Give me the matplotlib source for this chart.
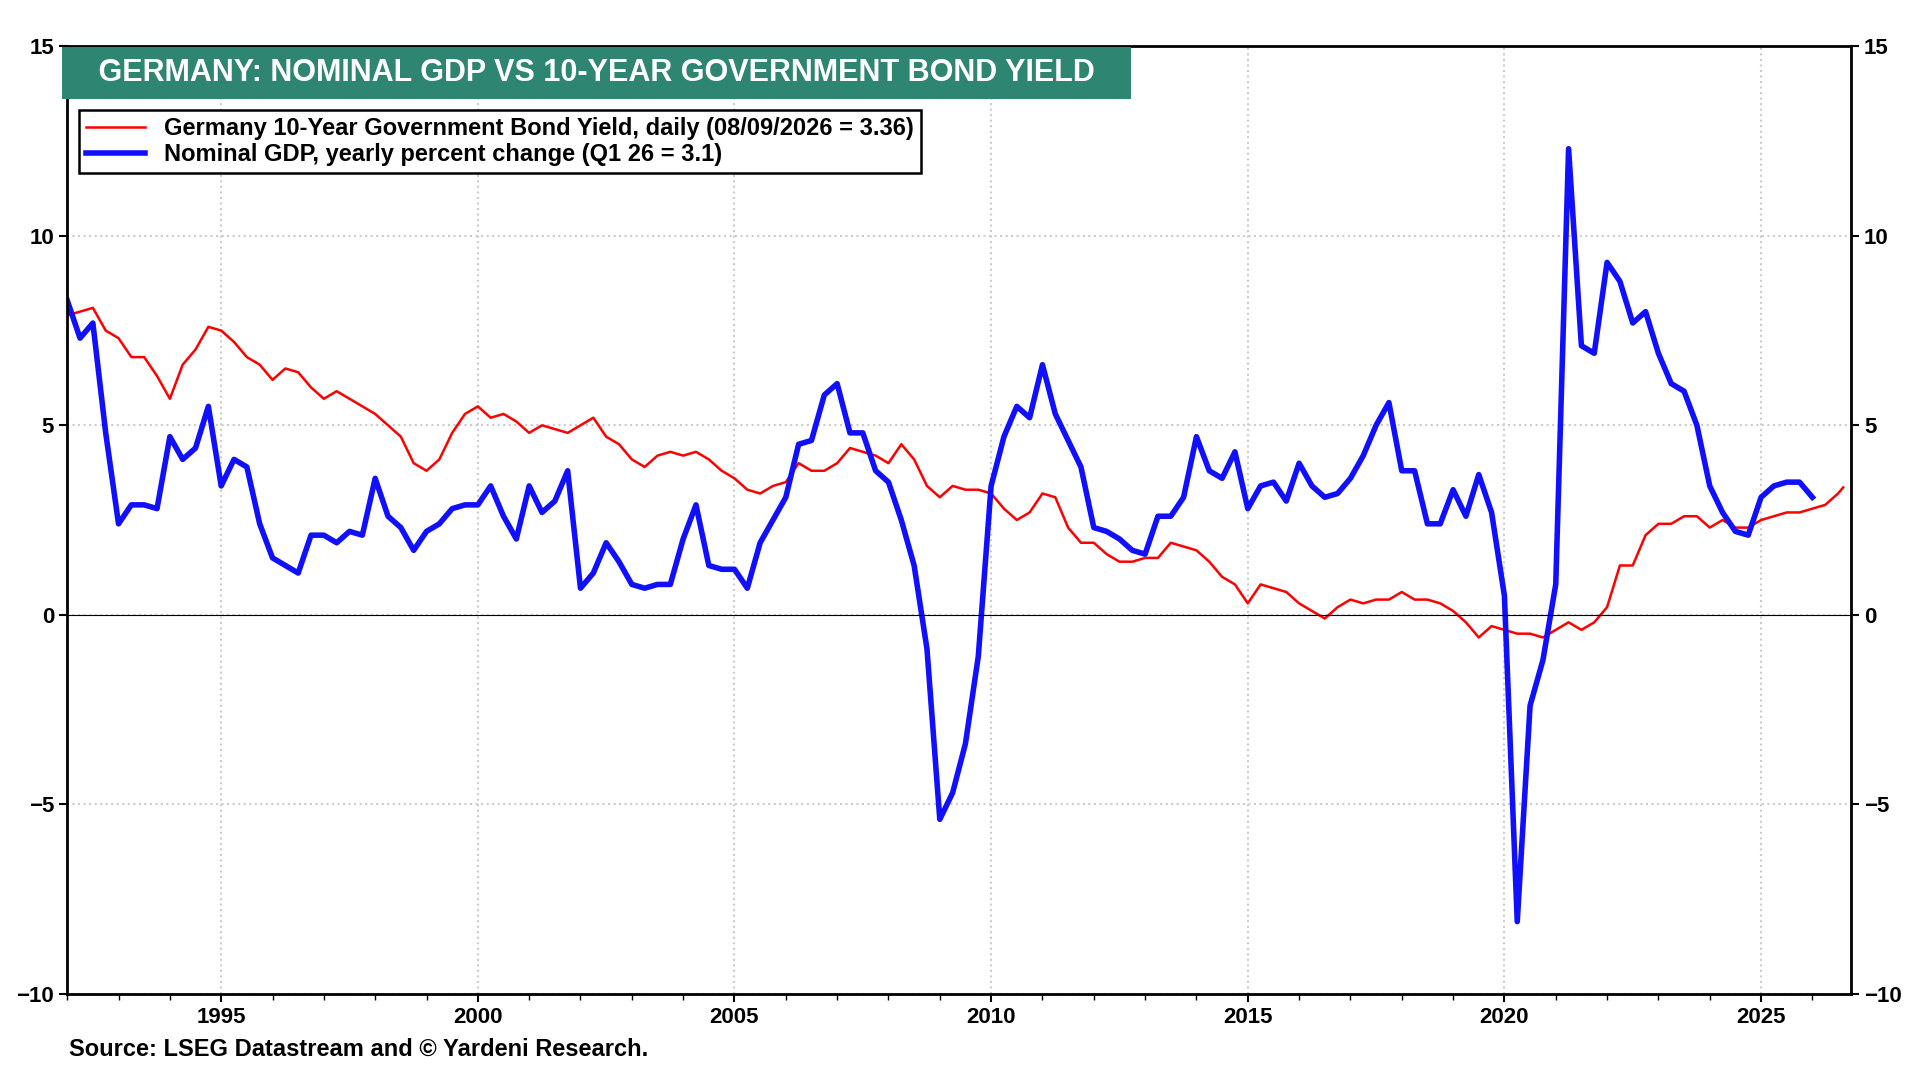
import numpy as np
import matplotlib.pyplot as plt

plt.rcParams['font.family'] = ['Liberation Sans', 'DejaVu Sans']

# Nominal GDP, y/y % change, quarterly 1992Q1..2026Q1
gdp = [8.3, 7.3, 7.7, 4.8, 2.4, 2.9, 2.9, 2.8, 4.7, 4.1, 4.4, 5.5,
       3.4, 4.1, 3.9, 2.4, 1.5, 1.3, 1.1, 2.1, 2.1, 1.9, 2.2, 2.1,
       3.6, 2.6, 2.3, 1.7, 2.2, 2.4, 2.8, 2.9, 2.9, 3.4, 2.6, 2.0,
       3.4, 2.7, 3.0, 3.8, 0.7, 1.1, 1.9, 1.4, 0.8, 0.7, 0.8, 0.8,
       2.0, 2.9, 1.3, 1.2, 1.2, 0.7, 1.9, 2.5, 3.1, 4.5, 4.6, 5.8,
       6.1, 4.8, 4.8, 3.8, 3.5, 2.5, 1.3, -0.9, -5.4, -4.7, -3.4, -1.1,
       3.4, 4.7, 5.5, 5.2, 6.6, 5.3, 4.6, 3.9, 2.3, 2.2, 2.0, 1.7,
       1.6, 2.6, 2.6, 3.1, 4.7, 3.8, 3.6, 4.3, 2.8, 3.4, 3.5, 3.0,
       4.0, 3.4, 3.1, 3.2, 3.6, 4.2, 5.0, 5.6, 3.8, 3.8, 2.4, 2.4,
       3.3, 2.6, 3.7, 2.7, 0.5, -8.1, -2.4, -1.2, 0.8, 12.3, 7.1, 6.9,
       9.3, 8.8, 7.7, 8.0, 6.9, 6.1, 5.9, 5.0, 3.4, 2.7, 2.2, 2.1,
       3.1, 3.4, 3.5, 3.5, 3.1]
gdp_t = 1992.0 + 0.25 * np.arange(len(gdp))

# 10-year bund yield, quarterly readings 1992Q1.. plus latest
yld = [7.9, 8.0, 8.1, 7.5, 7.3, 6.8, 6.8, 6.3, 5.7, 6.6, 7.0, 7.6,
       7.5, 7.2, 6.8, 6.6, 6.2, 6.5, 6.4, 6.0, 5.7, 5.9, 5.7, 5.5,
       5.3, 5.0, 4.7, 4.0, 3.8, 4.1, 4.8, 5.3, 5.5, 5.2, 5.3, 5.1,
       4.8, 5.0, 4.9, 4.8, 5.0, 5.2, 4.7, 4.5, 4.1, 3.9, 4.2, 4.3,
       4.2, 4.3, 4.1, 3.8, 3.6, 3.3, 3.2, 3.4, 3.5, 4.0, 3.8, 3.8,
       4.0, 4.4, 4.3, 4.2, 4.0, 4.5, 4.1, 3.4, 3.1, 3.4, 3.3, 3.3,
       3.2, 2.8, 2.5, 2.7, 3.2, 3.1, 2.3, 1.9, 1.9, 1.6, 1.4, 1.4,
       1.5, 1.5, 1.9, 1.8, 1.7, 1.4, 1.0, 0.8, 0.3, 0.8, 0.7, 0.6,
       0.3, 0.1, -0.1, 0.2, 0.4, 0.3, 0.4, 0.4, 0.6, 0.4, 0.4, 0.3,
       0.1, -0.2, -0.6, -0.3, -0.4, -0.5, -0.5, -0.6, -0.4, -0.2, -0.4, -0.2,
       0.2, 1.3, 1.3, 2.1, 2.4, 2.4, 2.6, 2.6, 2.3, 2.5, 2.3, 2.3,
       2.5, 2.6, 2.7, 2.7, 2.8, 2.9, 3.2]
yld_t = list(1992.0 + 0.25 * np.arange(len(yld)))
yld = yld + [3.36]
yld_t = yld_t + [2026.6]

fig = plt.figure(figsize=(19.2, 10.8), dpi=100)
ax = fig.add_axes([0.035, 0.08, 0.929, 0.877])
ax.plot(yld_t, yld, color='red', lw=1.8,
        label='Germany 10-Year Government Bond Yield, daily (08/09/2026 = 3.36)')
ax.plot(gdp_t, gdp, color='#1010ff', lw=4,
        label='Nominal GDP, yearly percent change (Q1 26 = 3.1)')
ax.axhline(0, color='black', lw=0.8)
ax.set_xlim(1992.0, 2026.75)
ax.set_ylim(-10, 15)
ax.set_yticks([-10, -5, 0, 5, 10, 15])
ax.set_xticks(range(1995, 2026, 5))
ax.set_xticks(range(1992, 2027), minor=True)
ax.grid(axis='x', which='major', color='#cccccc', ls=':', lw=1.5)
ax.grid(axis='y', color='#cccccc', ls=':', lw=1.5)
for s in ax.spines.values():
    s.set_linewidth(2)
ax.tick_params(labelsize=16, width=1.5, length=6, right=True, labelright=True)
for lab in ax.get_xticklabels() + ax.get_yticklabels():
    lab.set_fontweight('bold')
ax.tick_params(which='minor', length=4, width=1)

ax.text(0.003, 0.972, '   GERMANY: NOMINAL GDP VS 10-YEAR GOVERNMENT BOND YIELD   ',
        transform=ax.transAxes, fontsize=22, fontweight='bold', color='white',
        va='center', bbox=dict(facecolor='#2e8571', edgecolor='none', pad=8))
leg = ax.legend(loc='upper left', bbox_to_anchor=(0.0, 0.945),
                prop={'weight': 'bold', 'size': 17}, fancybox=False,
                edgecolor='black', framealpha=1, borderpad=0.3,
                handlelength=2.5, labelspacing=0.1)
leg.get_frame().set_linewidth(1.8)
fig.text(0.036, 0.022, 'Source: LSEG Datastream and © Yardeni Research.',
         fontsize=17, fontweight='bold')
fig.savefig('out.png', dpi=100)
